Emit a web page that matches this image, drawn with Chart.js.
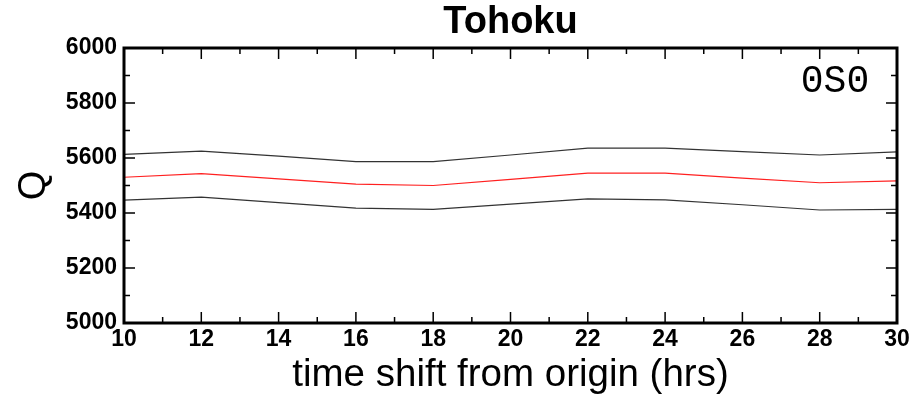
<!DOCTYPE html>
<html>
<head>
<meta charset="utf-8">
<script src="https://cdn.jsdelivr.net/npm/chart.js@4"></script>
<style>
  html, body { margin: 0; padding: 0; background: #fff; }
  #wrap { width: 922px; height: 401px; }
</style>
</head>
<body>
<div id="wrap"><canvas id="chart"></canvas></div>
<script>
// values
const hours = [10, 12, 14, 16, 18, 20, 22, 24, 26, 28, 30];
const upperQ = [5613, 5625, 5607, 5587, 5587, 5611, 5636, 5636, 5623, 5611, 5622];
const bestQ = [5530, 5543, 5524, 5505, 5500, 5522, 5545, 5545, 5527, 5510, 5517];
const lowerQ = [5447, 5458, 5438, 5418, 5413, 5432, 5451, 5448, 5430, 5411, 5413];
const modeLabel = '0S0';

const FONT = "'Liberation Sans', Arial, Helvetica, sans-serif";

function toPoints(ys) {
    return hours.map((h, i) => ({ x: h, y: ys[i] }));
}

// inward ticks on all four sides, frame, and the mode label
const framePlugin = {
    id: 'frame',
    afterDraw(chart) {
        const ctx = chart.ctx;
        const a = chart.chartArea;
        const xs = chart.scales.x;
        const ys = chart.scales.y;
        ctx.save();
        ctx.strokeStyle = '#000';
        ctx.lineWidth = 1.5;
        ctx.beginPath();
        xs.ticks.forEach(t => {
            const px = xs.getPixelForValue(t.value);
            const len = t.value % 2 === 0 ? 11 : 6;
            ctx.moveTo(px, a.bottom); ctx.lineTo(px, a.bottom - len);
            ctx.moveTo(px, a.top); ctx.lineTo(px, a.top + len);
        });
        ys.ticks.forEach(t => {
            const py = ys.getPixelForValue(t.value);
            const len = t.value % 200 === 0 ? 11 : 6;
            ctx.moveTo(a.left, py); ctx.lineTo(a.left + len, py);
            ctx.moveTo(a.right, py); ctx.lineTo(a.right - len, py);
        });
        ctx.stroke();
        ctx.lineWidth = 3;
        ctx.strokeRect(a.left, a.top, a.right - a.left, a.bottom - a.top);

        ctx.fillStyle = '#000';
        ctx.font = "38px 'Liberation Mono', 'DejaVu Sans Mono', monospace";
        ctx.textAlign = 'center';
        ctx.textBaseline = 'middle';
        ctx.fillText(modeLabel, 835, 82);
        ctx.restore();
    }
};

new Chart(document.getElementById('chart'), {
    type: 'line',
    data: {
        datasets: [{
            data: toPoints(upperQ),
            borderColor: '#333',
            borderWidth: 1.2
        }, {
            data: toPoints(bestQ),
            borderColor: '#ff2020',
            borderWidth: 1.2
        }, {
            data: toPoints(lowerQ),
            borderColor: '#333',
            borderWidth: 1.2
        }]
    },
    options: {
        responsive: true,
        maintainAspectRatio: false,
        animation: false,
        events: [],
        elements: {
            point: { radius: 0 },
            line: { tension: 0 }
        },
        layout: { padding: { left: 0, right: 25, top: 0, bottom: 0 } },
        plugins: {
            legend: { display: false },
            tooltip: { enabled: false },
            title: {
                display: true,
                text: 'Tohoku',
                fullSize: false,
                color: '#000',
                font: { family: FONT, size: 38, weight: 'bold', lineHeight: 1 },
                padding: { top: 3.5, bottom: 6.5 }
            }
        },
        scales: {
            x: {
                type: 'linear',
                min: 10,
                max: 30,
                grid: { display: false, drawTicks: false },
                border: { display: false },
                ticks: {
                    stepSize: 1,
                    autoSkip: false,
                    maxRotation: 0,
                    padding: 3,
                    color: '#000',
                    font: { family: FONT, size: 23, weight: 'bold' },
                    callback: v => (v % 2 === 0 ? v : '')
                },
                title: {
                    display: true,
                    text: 'time shift from origin (hrs)',
                    color: '#000',
                    font: { family: FONT, size: 38.5, lineHeight: 1 },
                    padding: { top: 0, bottom: 6 }
                },
                afterFit(scale) { scale.height = 78; }
            },
            y: {
                min: 5000,
                max: 6000,
                grid: { display: false, drawTicks: false },
                border: { display: false },
                ticks: {
                    stepSize: 100,
                    autoSkip: false,
                    padding: 7,
                    color: '#000',
                    font: { family: FONT, size: 23, weight: 'bold' },
                    callback: v => (v % 200 === 0 ? v : '')
                },
                title: {
                    display: true,
                    text: 'Q',
                    color: '#000',
                    font: { family: FONT, size: 38, lineHeight: 1 },
                    padding: { top: 16, bottom: 0 }
                },
                afterFit(scale) { scale.width = 124; }
            }
        }
    },
    plugins: [framePlugin]
});
</script>
</body>
</html>
